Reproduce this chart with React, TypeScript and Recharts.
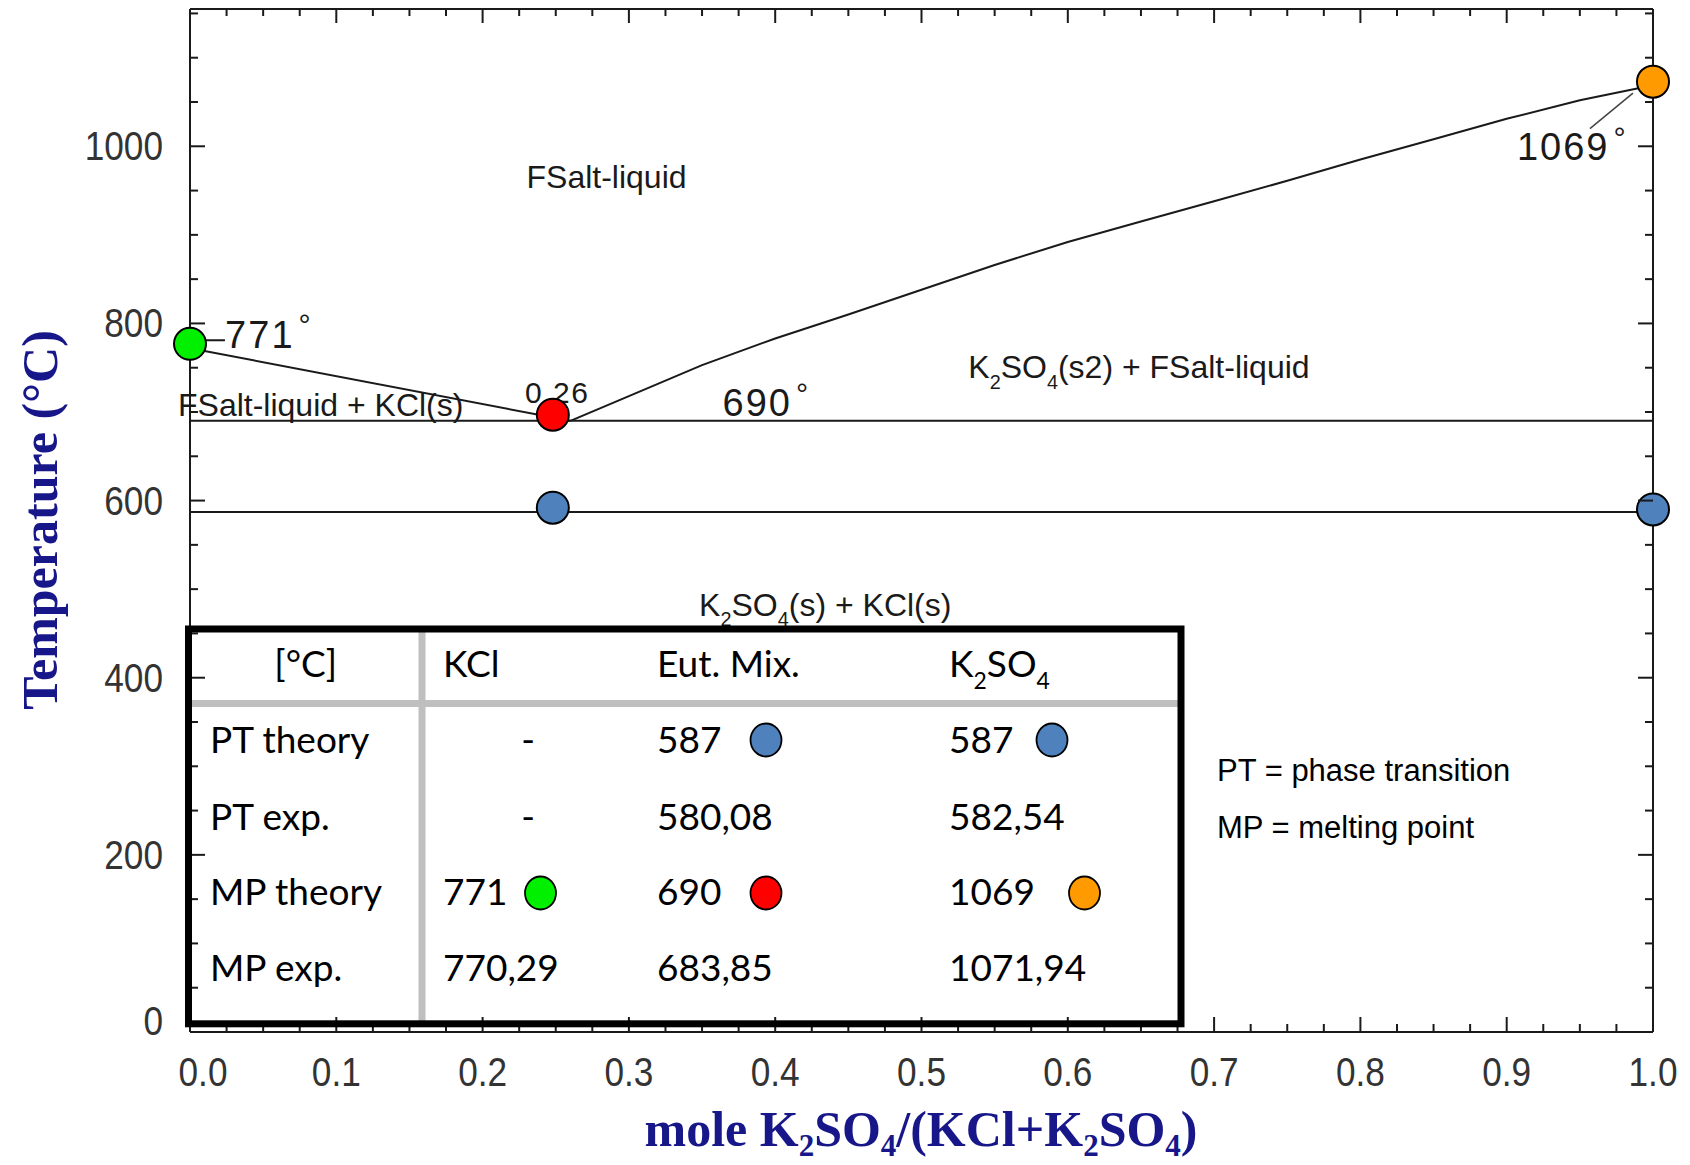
import React from "react";
import {
  ComposedChart,
  Line,
  Scatter,
  Cell,
  XAxis,
  YAxis,
  ReferenceDot,
  ReferenceLine,
} from "recharts";

// ---- data ----
const leftLiquidus = [
  { x: 0, y: 772 },
  { x: 0.26, y: 690 },
];
const rightLiquidus = [
  { x: 0.26, y: 690 },
  { x: 0.3, y: 718 },
  { x: 0.35, y: 753 },
  { x: 0.4, y: 783 },
  { x: 0.45, y: 810 },
  { x: 0.5, y: 838 },
  { x: 0.55, y: 866 },
  { x: 0.6, y: 892 },
  { x: 0.65, y: 915 },
  { x: 0.7, y: 938 },
  { x: 0.75, y: 961 },
  { x: 0.8, y: 985 },
  { x: 0.85, y: 1008 },
  { x: 0.9, y: 1031 },
  { x: 0.95, y: 1052 },
  { x: 1.0, y: 1069 },
];
const eutecticLine = [
  { x: 0, y: 690 },
  { x: 1, y: 690 },
];
const transitionLine = [
  { x: 0, y: 587 },
  { x: 1, y: 587 },
];
const markers = [
  { x: 0, y: 777 },
  { x: 0.248, y: 697 },
  { x: 0.248, y: 592 },
  { x: 1, y: 590 },
  { x: 1, y: 1073 },
];

const xMajor = [0, 0.1, 0.2, 0.3, 0.4, 0.5, 0.6, 0.7, 0.8, 0.9, 1.0];
const xMajorLabels = ["0.0", "0.1", "0.2", "0.3", "0.4", "0.5", "0.6", "0.7", "0.8", "0.9", "1.0"];
const yMajor = [0, 200, 400, 600, 800, 1000];
const yMajorLabels = ["0", "200", "400", "600", "800", "1000"];

const tableHeader = ["[°C]", "KCl", "Eut. Mix.", "K2SO4"];
const rowLabels = ["PT theory", "PT exp.", "MP theory", "MP exp."];
const kclValues = ["-", "-", "771", "770,29"];
const eutValues = ["587", "580,08", "690", "683,85"];
const k2so4Values = ["587", "582,54", "1069", "1071,94"];

// ---- styling ----
const W = 1690;
const H = 1165;
const INK = "#1a1a1a";
const NAVY = "#17178a";
const BLUE = "#4f81bd";
const GREEN = "#00f000";
const RED = "#ff0000";
const ORANGE = "#ff9a00";
const markerColors = [GREEN, RED, BLUE, BLUE, ORANGE];

const FONT_PLOT = "'Liberation Sans', Arial, sans-serif";
const FONT_TABLE = "Lato, 'Open Sans', sans-serif";
const FONT_TITLE = "'Liberation Serif', 'Times New Roman', serif";

// minor ticks (axis config only)
const xTicks = Array.from({ length: 41 }, (_, i) => i / 40);
const yTicks = Array.from({ length: 24 }, (_, i) => i * 50);

const findLabel = (list: number[], labels: string[], v: number) => {
  const i = list.findIndex((m) => Math.abs(m - v) < 1e-6);
  return i >= 0 ? labels[i] : null;
};

const BottomTick = (props: any) => {
  const { x, y, payload } = props;
  const label = findLabel(xMajor, xMajorLabels, payload.value);
  const dx = payload.value === 0 ? 13 : 0;
  return (
    <g>
      <line x1={x} y1={y} x2={x} y2={y - (label ? 15 : 8)} stroke={INK} strokeWidth={2} />
      {label && (
        <text
          transform={`translate(${x + dx},${y + 54}) scale(0.88,1)`}
          textAnchor="middle"
          fontFamily={FONT_PLOT}
          fontSize={40}
          fill="#333"
        >
          {label}
        </text>
      )}
    </g>
  );
};

const TopTick = (props: any) => {
  const { x, y, payload } = props;
  const major = findLabel(xMajor, xMajorLabels, payload.value);
  return <line x1={x} y1={y} x2={x} y2={y + (major ? 14 : 7)} stroke={INK} strokeWidth={2} />;
};

const LeftTick = (props: any) => {
  const { x, y, payload } = props;
  const label = findLabel(yMajor, yMajorLabels, payload.value);
  const dy = payload.value === 0 ? -11 : 0;
  return (
    <g>
      <line x1={x} y1={y} x2={x + (label ? 15 : 8)} y2={y} stroke={INK} strokeWidth={2} />
      {label && (
        <text
          transform={`translate(${x - 27},${y + 14 + dy}) scale(0.88,1)`}
          textAnchor="end"
          fontFamily={FONT_PLOT}
          fontSize={40}
          fill="#333"
        >
          {label}
        </text>
      )}
    </g>
  );
};

const RightTick = (props: any) => {
  const { x, y, payload } = props;
  const major = findLabel(yMajor, yMajorLabels, payload.value);
  return <line x1={x} y1={y} x2={x - (major ? 15 : 8)} y2={y} stroke={INK} strokeWidth={2} />;
};

type Part = { t: string; sub?: boolean; sup?: boolean };

const spans = (parts: Part[], size: number, subShift = 0.32) => {
  let shift = 0;
  return parts.map((p, i) => {
    const target = p.sub ? size * subShift : p.sup ? -size * 0.34 : 0;
    const dy = target - shift;
    shift = target;
    return (
      <tspan key={i} dy={dy} dx={p.sup ? 4 : 0} fontSize={p.sub ? size * 0.62 : p.sup ? size * 0.8 : size}>
        {p.t}
      </tspan>
    );
  });
};

const noteShape = (parts: Part[], size = 32, dx = 0, spacing = 0) => (p: any) => (
  <text
    x={p.cx + dx}
    y={p.cy}
    fontFamily={FONT_PLOT}
    fontSize={size}
    fill={INK}
    letterSpacing={spacing}
  >
    {spans(parts, size)}
  </text>
);

const phaseNotes: { x: number; y: number; parts: Part[]; size?: number; dx?: number; spacing?: number }[] = [
  { x: 0.23, y: 953, parts: [{ t: "FSalt-liquid" }] },
  { x: 0, y: 695, dx: -12, parts: [{ t: "FSalt-liquid + KCl(s)" }] },
  { x: 0.229, y: 710, size: 30, spacing: 1.5, parts: [{ t: "0.26" }] },
  { x: 0.364, y: 695, size: 38, spacing: 2, parts: [{ t: "690" }, { t: "°", sup: true }] },
  { x: 0.024, y: 772, size: 38, spacing: 2, parts: [{ t: "771" }, { t: "°", sup: true }] },
  { x: 0.907, y: 984, size: 38, spacing: 2, parts: [{ t: "1069" }, { t: "°", sup: true }] },
  {
    x: 0.532,
    y: 738,
    parts: [{ t: "K" }, { t: "2", sub: true }, { t: "SO" }, { t: "4", sub: true }, { t: "(s2) + FSalt-liquid" }],
  },
  {
    x: 0.348,
    y: 470,
    parts: [{ t: "K" }, { t: "2", sub: true }, { t: "SO" }, { t: "4", sub: true }, { t: "(s) + KCl(s)" }],
  },
];

// table layout (pixels)
const rowBaselines = [753, 830, 905, 981];
const headerBaseline = 677;
const colLabelX = 210;
const colX = [443, 657, 949];
const dashX = 528;
const tableDots = [
  { x: 766, y: 740, color: BLUE },
  { x: 1052, y: 740, color: BLUE },
  { x: 540.5, y: 893, color: GREEN },
  { x: 766, y: 893, color: RED },
  { x: 1084.5, y: 893, color: ORANGE },
];

const DataTable = () => {
  const cols = [kclValues, eutValues, k2so4Values];
  return (
    <g fontFamily={FONT_TABLE} fontSize={37} fill="#000">
      <line x1={422} y1={632} x2={422} y2={1021} stroke="#bfbfbf" strokeWidth={7} />
      <line x1={192} y1={703.5} x2={1181} y2={703.5} stroke="#bfbfbf" strokeWidth={7} />
      <rect x={188.5} y={629} width={992.5} height={394.8} fill="none" stroke="#000" strokeWidth={7} />
      <text x={305.7} y={headerBaseline} textAnchor="middle">
        {tableHeader[0]}
      </text>
      <text x={colX[0]} y={headerBaseline}>
        {tableHeader[1]}
      </text>
      <text x={colX[1]} y={headerBaseline}>
        {tableHeader[2]}
      </text>
      <text x={colX[2]} y={headerBaseline}>
        {spans([{ t: "K" }, { t: "2", sub: true }, { t: "SO" }, { t: "4", sub: true }], 37)}
      </text>
      {rowLabels.map((r, i) => (
        <text key={r} x={colLabelX} y={rowBaselines[i]}>
          {r}
        </text>
      ))}
      {cols.map((col, c) =>
        col.map((v, i) => (
          <text
            key={`${c}-${i}`}
            x={v === "-" ? dashX : colX[c]}
            y={rowBaselines[i]}
            textAnchor={v === "-" ? "middle" : "start"}
          >
            {v}
          </text>
        ))
      )}
      {tableDots.map((d, i) => (
        <ellipse key={i} cx={d.x} cy={d.y} rx={15.5} ry={16.5} fill={d.color} stroke="#000" strokeWidth={1.8} />
      ))}
    </g>
  );
};

const Overlay = () => (
  <svg width={W} height={H} style={{ position: "absolute", left: 0, top: 0, pointerEvents: "none" }}>
    <text
      transform="translate(57,520) rotate(-90)"
      textAnchor="middle"
      fontFamily={FONT_TITLE}
      fontWeight="bold"
      fontSize={50}
      fill={NAVY}
    >
      Temperature (°C)
    </text>
    <text x={921} y={1146} textAnchor="middle" fontFamily={FONT_TITLE} fontWeight="bold" fontSize={50} fill={NAVY}>
      {spans(
        [
          { t: "mole K" },
          { t: "2", sub: true },
          { t: "SO" },
          { t: "4", sub: true },
          { t: "/(KCl+K" },
          { t: "2", sub: true },
          { t: "SO" },
          { t: "4", sub: true },
          { t: ")" },
        ],
        50,
        0.2
      )}
    </text>
    <g fontFamily={FONT_PLOT} fontSize={31} fill="#000">
      <text x={1217} y={781}>
        PT = phase transition
      </text>
      <text x={1217} y={838}>
        MP = melting point
      </text>
    </g>
    <DataTable />
  </svg>
);

const axisLine = { stroke: INK, strokeWidth: 2 };

export default function App() {
  return (
    <div style={{ position: "absolute", left: 0, top: 0, width: W, height: H, background: "#fff" }}>
      <ComposedChart width={W} height={H} margin={{ top: 8, right: 36, bottom: 132, left: 189 }}>
        <XAxis
          dataKey="x"
          type="number"
          domain={[0, 1]}
          ticks={xTicks}
          interval={0}
          height={1}
          tickSize={0}
          tickMargin={0}
          tickLine={false}
          axisLine={axisLine}
          tick={BottomTick}
        />
        <XAxis
          xAxisId="top"
          orientation="top"
          dataKey="x"
          type="number"
          domain={[0, 1]}
          ticks={xTicks}
          interval={0}
          height={1}
          tickSize={0}
          tickMargin={0}
          tickLine={false}
          axisLine={axisLine}
          tick={TopTick}
        />
        <YAxis
          dataKey="y"
          type="number"
          domain={[0, 1155]}
          ticks={yTicks}
          interval={0}
          width={1}
          tickSize={0}
          tickMargin={0}
          tickLine={false}
          axisLine={axisLine}
          tick={LeftTick}
        />
        <YAxis
          yAxisId="right"
          orientation="right"
          dataKey="y"
          type="number"
          domain={[0, 1155]}
          ticks={yTicks}
          interval={0}
          width={1}
          tickSize={0}
          tickMargin={0}
          tickLine={false}
          axisLine={axisLine}
          tick={RightTick}
        />

        <Line data={eutecticLine} dataKey="y" stroke={INK} strokeWidth={2} dot={false} isAnimationActive={false} />
        <Line data={transitionLine} dataKey="y" stroke={INK} strokeWidth={2} dot={false} isAnimationActive={false} />
        <Line data={leftLiquidus} dataKey="y" stroke={INK} strokeWidth={2} dot={false} isAnimationActive={false} />
        <Line data={rightLiquidus} dataKey="y" stroke={INK} strokeWidth={2} dot={false} isAnimationActive={false} />
        {/* ties the frame axes (top / right) to a series so their ticks get drawn */}
        <Line
          xAxisId="top"
          yAxisId="right"
          data={transitionLine}
          dataKey="y"
          stroke="none"
          dot={false}
          activeDot={false}
          isAnimationActive={false}
        />

        <ReferenceLine
          segment={[
            { x: 0.0103, y: 781 },
            { x: 0.0239, y: 781 },
          ]}
          stroke={INK}
          strokeWidth={2}
        />
        <ReferenceLine
          segment={[
            { x: 0.9863, y: 1060 },
            { x: 0.9569, y: 1020 },
          ]}
          stroke="#444"
          strokeWidth={1.5}
        />

        {phaseNotes.map((n, i) => (
          <ReferenceDot
            key={i}
            x={n.x}
            y={n.y}
            r={1}
            shape={noteShape(n.parts, n.size, n.dx, n.spacing)}
          />
        ))}

        <Scatter
          data={markers}
          isAnimationActive={false}
          shape={(p: any) => (
            <circle cx={p.cx} cy={p.cy} r={16} fill={p.fill} stroke="#000" strokeWidth={2} />
          )}
        >
          {markers.map((_, i) => (
            <Cell key={i} fill={markerColors[i]} />
          ))}
        </Scatter>
      </ComposedChart>
      <Overlay />
    </div>
  );
}
